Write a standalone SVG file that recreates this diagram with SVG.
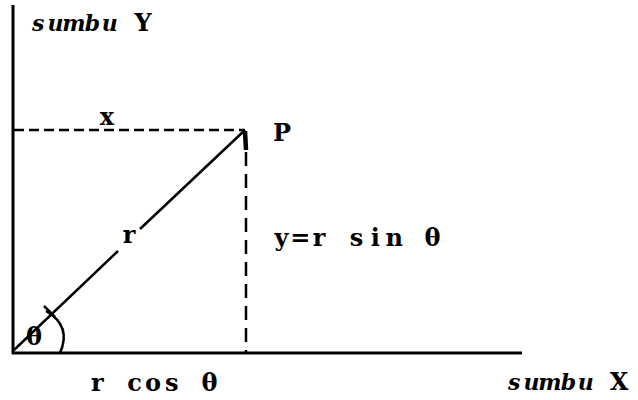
<svg xmlns="http://www.w3.org/2000/svg" width="638" height="400" viewBox="0 0 638 400">
<style>
.t{font-family:"DejaVu Serif","Liberation Serif",serif;font-size:24px;font-weight:bold;fill:#000;text-anchor:middle}
.i{font-style:italic;font-size:22px}
.ax{stroke:#000;stroke-width:3;fill:none}
.ln{stroke:#000;stroke-width:2.5;fill:none}
.dh{stroke:#000;stroke-width:2.5;fill:none;stroke-dasharray:10 5}
.dv{stroke:#000;stroke-width:2.5;fill:none;stroke-dasharray:14 8}
</style>
<rect width="638" height="400" fill="#fff"/>
<g id="axes">
<line class="ax" x1="13" y1="5" x2="13" y2="354"/>
<line class="ax" x1="12" y1="353" x2="522" y2="353"/>
</g>
<g id="connectors">
<line class="dh" x1="14" y1="130" x2="245" y2="130"/>
<line class="dv" x1="246" y1="152" x2="246" y2="352"/>
<line class="ln" x1="14" y1="350" x2="118" y2="251"/>
<line class="ln" x1="140" y1="229" x2="245" y2="130"/>
<line stroke="#000" stroke-width="4.5" x1="245" y1="131" x2="246" y2="150"/>
<path class="ln" d="M46 311 Q72 326 60 353"/>
<line class="ln" x1="44" y1="306" x2="55" y2="317"/>
</g>
<g id="labels">
<text class="t" y="31"><tspan class="i" x="38.2 55.6 74 92.4 109.8">sumbu</tspan><tspan x="143.1">Y</tspan></text>
<text class="t" x="107" y="125">x</text>
<text class="t" x="282" y="141">P</text>
<text class="t" x="129" y="243">r</text>
<text class="t" y="246" x="281.4 300.2 319.0 337.8 356.6 375.4 394.2 413.0 432.5">y=r sin θ</text>
<text class="t" x="34" y="345">θ</text>
<text class="t" y="391" x="97.3 115.9 134.5 153.1 171.7 190.3 209.5">r cos θ</text>
<text class="t" y="390"><tspan class="i" x="514.2 531.6 550 568.4 585.8">sumbu</tspan><tspan x="619.1">X</tspan></text>
</g>
</svg>
